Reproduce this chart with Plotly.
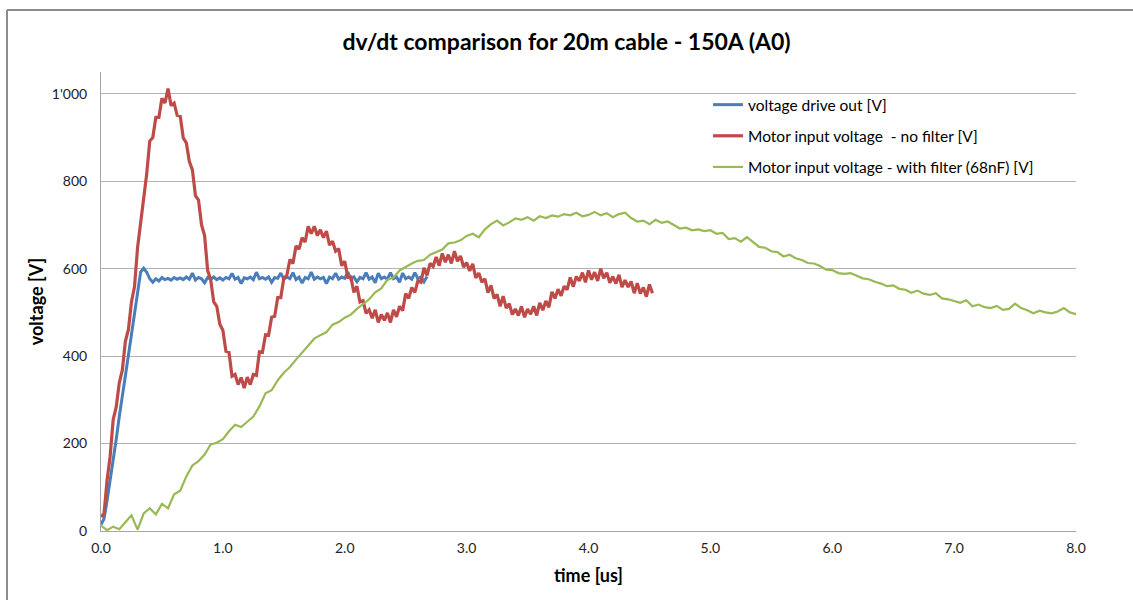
import plotly.graph_objects as go

# Sampled waveforms (time in microseconds, voltage in volts)
DT_DRIVE = 0.025
DT_MOTOR = 0.025
DT_FILTER = 0.05

drive_out = [
    15, 28, 70, 115, 165, 210, 262, 305, 355, 402, 450, 497, 545, 592, 601, 592,
    577, 569, 577, 572, 580, 575, 578, 574, 580, 576, 579, 575, 581, 576, 590, 574,
    580, 577, 568, 580, 576, 581, 575, 579, 574, 580, 577, 589, 576, 580, 566, 579,
    577, 581, 575, 592, 577, 580, 576, 581, 569, 580, 578, 590, 576, 581, 577, 591,
    575, 581, 567, 580, 577, 592, 576, 581, 577, 580, 566, 581, 577, 590, 576, 581,
    578, 592, 576, 581, 570, 580, 577, 591, 576, 581, 568, 590, 577, 581, 576, 591,
    577, 581, 569, 590, 577, 581, 576, 591, 577, 581, 570, 582,
]

motor_no_filter = [
    32, 40, 116, 171, 255, 284, 339, 368, 434, 461, 524, 559, 648, 705, 771, 817,
    892, 900, 946, 946, 990, 979, 1012, 973, 979, 951, 949, 899, 888, 845, 826, 767,
    757, 700, 676, 596, 575, 524, 514, 473, 459, 411, 409, 354, 358, 335, 351, 327,
    352, 335, 358, 356, 410, 409, 449, 448, 489, 491, 534, 534, 578, 585, 621, 612,
    652, 645, 671, 661, 697, 680, 697, 676, 689, 671, 686, 654, 663, 640, 646, 607,
    617, 580, 581, 546, 560, 524, 527, 498, 506, 487, 506, 477, 495, 482, 499, 477,
    506, 490, 514, 504, 543, 532, 557, 546, 572, 569, 602, 585, 612, 605, 627, 607,
    635, 615, 632, 612, 640, 617, 629, 604, 614, 595, 611, 579, 590, 569, 577, 545,
    562, 532, 541, 514, 537, 510, 520, 495, 508, 493, 514, 489, 508, 496, 514, 493,
    522, 505, 526, 512, 547, 532, 553, 538, 560, 552, 580, 559, 582, 572, 591, 569,
    596, 575, 592, 572, 600, 578, 591, 568, 582, 566, 586, 558, 574, 558, 571, 544,
    567, 543, 557, 536, 564, 544,
]

motor_with_filter = [
    12, 2, 10, 4, 20, 36, 3, 40, 52, 38, 62, 52, 84, 92, 125, 150,
    160, 175, 198, 202, 210, 228, 243, 238, 250, 262, 285, 315, 322, 345, 362, 375,
    392, 408, 425, 440, 448, 455, 472, 478, 488, 495, 508, 518, 530, 546, 555, 575,
    580, 596, 605, 612, 618, 620, 632, 638, 644, 658, 660, 665, 675, 680, 672, 690,
    702, 710, 699, 706, 715, 712, 718, 710, 720, 716, 722, 719, 725, 722, 728, 720,
    723, 730, 722, 727, 718, 725, 728, 716, 708, 710, 702, 712, 705, 708, 700, 692,
    694, 688, 690, 686, 688, 680, 682, 668, 670, 662, 672, 660, 650, 648, 640, 638,
    628, 632, 624, 620, 613, 612, 606, 598, 597, 590, 588, 590, 584, 578, 576, 570,
    566, 560, 562, 554, 552, 545, 550, 543, 540, 544, 532, 530, 526, 522, 528, 514,
    518, 512, 510, 515, 506, 508, 520, 510, 505, 498, 504, 500, 498, 502, 510, 500,
    496,
]

series_names = [
    "voltage drive out [V]",
    "Motor input voltage  - no filter [V]",
    "Motor input voltage - with filter (68nF) [V]",
]
series_colors = ["#4a7ebb", "#be4b48", "#98b954"]

y_tick_vals = [0, 200, 400, 600, 800, 1000]
y_tick_text = ["0", "200", "400", "600", "800", "1'000"]
x_tick_vals = [0, 1, 2, 3, 4, 5, 6, 7, 8]
x_tick_text = ["0.0", "1.0", "2.0", "3.0", "4.0", "5.0", "6.0", "7.0", "8.0"]


def time_axis(values, dt):
    return [round(i * dt, 4) for i in range(len(values))]


FONT = "Lato"

fig = go.Figure()
for vals, dt, name, color, width in [
    (drive_out, DT_DRIVE, series_names[0], series_colors[0], 3),
    (motor_no_filter, DT_MOTOR, series_names[1], series_colors[1], 3.2),
    (motor_with_filter, DT_FILTER, series_names[2], series_colors[2], 2.2),
]:
    fig.add_trace(go.Scatter(
        x=time_axis(vals, dt), y=vals, mode="lines", name=name,
        legendgroup=name,
        line=dict(color=color, width=width),
    ))

fig.update_layout(
    width=1133, height=600,
    margin=dict(l=101, r=57, t=72, b=69),
    paper_bgcolor="white", plot_bgcolor="white",
    font=dict(family=FONT, color="#000000"),
    title=dict(
        text="<b>dv/dt comparison for 20m cable - 150A (A0)</b>",
        x=0.5, xanchor="center", y=0.93, yanchor="middle",
        font=dict(size=23, family=FONT, color="#000000"),
    ),
    showlegend=True,
    legend=dict(
        x=0.6226, y=0.965, xanchor="left", yanchor="top",
        bgcolor="rgba(0,0,0,0)", traceorder="grouped", tracegroupgap=8,
        font=dict(size=15.5, family=FONT, color="#000000"),
        itemwidth=30,
    ),
    xaxis=dict(
        range=[0, 8], tickvals=x_tick_vals, ticktext=x_tick_text,
        showgrid=False, zeroline=False,
        showline=True, linecolor="#a6a6a6", linewidth=1,
        ticks="", tickfont=dict(size=14, color="#222222"), ticklabelstandoff=4,
        title=dict(text="<b>time [us]</b>", font=dict(size=18), standoff=14),
    ),
    yaxis=dict(
        range=[0, 1050], tickvals=y_tick_vals, ticktext=y_tick_text,
        showgrid=True, gridcolor="#b3b3b3", gridwidth=1, zeroline=False,
        showline=True, linecolor="#a6a6a6", linewidth=1,
        ticks="", tickfont=dict(size=14, color="#222222"), ticklabelstandoff=10,
        title=dict(text="<b>voltage [V]</b>", font=dict(size=18), standoff=3),
    ),
)

# Outer chart frame (left and top edges)
fig.add_shape(type="line", xref="paper", yref="paper",
              x0=-0.0964, x1=-0.0964, y0=1.135, y1=-0.2,
              line=dict(color="#8c8c8c", width=2))
fig.add_shape(type="line", xref="paper", yref="paper",
              x0=-0.0964, x1=1.1, y0=1.135, y1=1.135,
              line=dict(color="#8c8c8c", width=2))

fig.write_html("out.html")
